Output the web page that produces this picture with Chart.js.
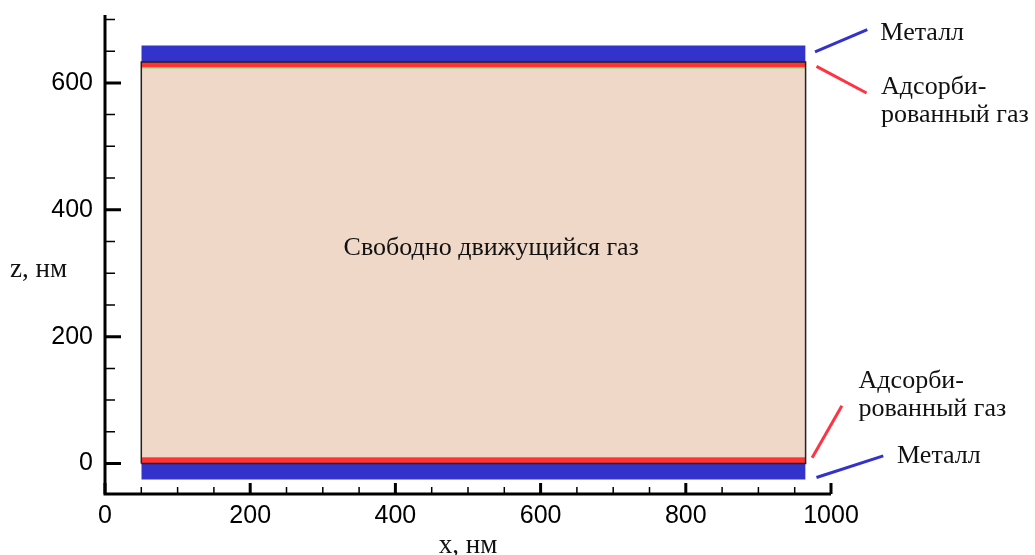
<!DOCTYPE html>
<html>
<head>
<meta charset="utf-8">
<script src="https://cdn.jsdelivr.net/npm/chart.js@4/dist/chart.umd.min.js"></script>
<style>
  body { margin: 0; background: #fff; }
  #wrap { width: 1035px; height: 555px; }
</style>
</head>
<body>
<div id="wrap"><canvas id="layers"></canvas></div>
<script>
// axis ticks
const xTicks = [0, 200, 400, 600, 800, 1000];
const zTicks = [0, 200, 400, 600];

// layers of the channel, nm
const xSpan = [50, 965];
const metalBottom = [-25, 0];
const adsorbedBottom = [0, 10];
const freeGas = [10, 624];
const adsorbedTop = [624, 633];
const metalTop = [633, 659];

// callouts (data units)
const callouts = [
  { lines: ["Металл"], tx: 1068, tz: 668, from: [978, 649], to: [1050, 684], color: "#3333cc" },
  { lines: ["Адсорби-", "рованный газ"], tx: 1069, tz: 582, from: [980, 626], to: [1049, 584], color: "#ff3344" },
  { lines: ["Адсорби-", "рованный газ"], tx: 1038, tz: 119, from: [974, 9], to: [1015, 91], color: "#ff3344" },
  { lines: ["Металл"], tx: 1091, tz: 1, from: [980, -22], to: [1072, 12], color: "#3333cc" },
];

const BLUE = "#3333cc";
const RED = "#ff3333";
const BEIGE = "#f0d8c8";

function band(range, color) {
  return {
    data: xSpan.map((x) => ({ x: x, y: range[1] })),
    fill: { value: range[0] },
    backgroundColor: color,
    borderWidth: 0,
    pointRadius: 0,
  };
}

const outline = {
  data: [
    { x: xSpan[0], y: adsorbedBottom[0] },
    { x: xSpan[1], y: adsorbedBottom[0] },
    { x: xSpan[1], y: metalTop[0] },
    { x: xSpan[0], y: metalTop[0] },
    { x: xSpan[0], y: adsorbedBottom[0] },
  ],
  borderColor: "#222",
  borderWidth: 1.5,
  fill: false,
  pointRadius: 0,
};

const greenEdge = {
  data: xSpan.map((x) => ({ x: x, y: adsorbedTop[0] })),
  borderColor: "#66dd77",
  borderWidth: 1.5,
  fill: false,
  pointRadius: 0,
};

const serif = '"Liberation Serif", "Times New Roman", serif';
const sans = '"Liberation Sans", Arial, sans-serif';

const decor = {
  id: "decor",
  afterDraw(chart) {
    const { ctx, chartArea: a, scales } = chart;
    const x = scales.x, y = scales.y;
    ctx.save();
    ctx.strokeStyle = "#000";
    // minor ticks
    ctx.lineWidth = 1.5;
    ctx.beginPath();
    for (let v = 50; v < 1000; v += 50) {
      if (v % 200 === 0) continue;
      const px = x.getPixelForValue(v);
      ctx.moveTo(px, a.bottom);
      ctx.lineTo(px, a.bottom - 7);
    }
    for (let v = 50; v <= 700; v += 50) {
      if (v % 200 === 0) continue;
      const py = y.getPixelForValue(v);
      ctx.moveTo(a.left, py);
      ctx.lineTo(a.left + 10, py);
    }
    ctx.stroke();
    // major ticks
    ctx.lineWidth = 3;
    ctx.beginPath();
    xTicks.forEach((v) => {
      const px = x.getPixelForValue(v);
      ctx.moveTo(px, a.bottom);
      ctx.lineTo(px, a.bottom - 11);
    });
    zTicks.forEach((v) => {
      const py = y.getPixelForValue(v);
      ctx.moveTo(a.left, py);
      ctx.lineTo(a.left + 16, py);
    });
    ctx.stroke();
    // axis lines
    ctx.lineWidth = 3;
    ctx.beginPath();
    ctx.moveTo(a.left, a.top);
    ctx.lineTo(a.left, a.bottom + 1.5);
    ctx.moveTo(a.left - 1.5, a.bottom);
    ctx.lineTo(a.right, a.bottom);
    ctx.stroke();

    // texts
    ctx.fillStyle = "#111";
    ctx.font = "27px " + serif;
    ctx.textBaseline = "alphabetic";
    ctx.textAlign = "left";
    ctx.fillText("z, нм", 10, 277);
    ctx.textAlign = "center";
    ctx.fillText("x, нм", (a.left + a.right) / 2, 553);

    ctx.font = "26px " + serif;
    ctx.textBaseline = "middle";
    ctx.fillText("Свободно движущийся газ", x.getPixelForValue(532), y.getPixelForValue(339));

    // callouts
    ctx.textAlign = "left";
    ctx.textBaseline = "alphabetic";
    callouts.forEach((c) => {
      ctx.strokeStyle = c.color;
      ctx.lineWidth = 3;
      ctx.beginPath();
      ctx.moveTo(x.getPixelForValue(c.from[0]), y.getPixelForValue(c.from[1]));
      ctx.lineTo(x.getPixelForValue(c.to[0]), y.getPixelForValue(c.to[1]));
      ctx.stroke();
      const tx = x.getPixelForValue(c.tx);
      const ty = y.getPixelForValue(c.tz);
      c.lines.forEach((line, i) => {
        ctx.fillText(line, tx, ty + i * 28);
      });
    });
    ctx.restore();
  },
};

const ctx = document.getElementById("layers").getContext("2d");
const layersChart = new Chart(ctx, {
  type: "line",
  data: {
    datasets: [
      outline,
      greenEdge,
      band(metalTop, BLUE),
      band(adsorbedTop, RED),
      band(adsorbedBottom, RED),
      band(metalBottom, BLUE),
      band(freeGas, BEIGE),
    ],
  },
  options: {
    responsive: true,
    maintainAspectRatio: false,
    animation: false,
    layout: {
      padding: { top: 15, right: 204, left: 0, bottom: 0 },
    },
    plugins: {
      legend: { display: false },
      tooltip: { enabled: false },
    },
    scales: {
      x: {
        type: "linear",
        min: 0,
        max: 1000,
        grid: { display: false, drawTicks: false },
        border: { display: false },
        afterBuildTicks: (scale) => {
          scale.ticks = xTicks.map((v) => ({ value: v }));
        },
        afterFit: (scale) => {
          scale.height = 61;
          scale.paddingLeft = 0;
          scale.paddingRight = 0;
        },
        ticks: {
          color: "#000",
          padding: 7,
          maxRotation: 0,
          callback: (v) => String(v),
          font: { family: sans, size: 25 },
        },
      },
      y: {
        type: "linear",
        min: -48,
        max: 707,
        grid: { display: false, drawTicks: false },
        border: { display: false },
        afterBuildTicks: (scale) => {
          scale.ticks = zTicks.map((v) => ({ value: v }));
        },
        afterFit: (scale) => {
          scale.width = 105;
          scale.paddingTop = 0;
          scale.paddingBottom = 0;
        },
        ticks: {
          color: "#000",
          padding: 12,
          callback: (v) => String(v),
          font: { family: sans, size: 25 },
        },
      },
    },
  },
  plugins: [decor],
});
</script>
</body>
</html>
